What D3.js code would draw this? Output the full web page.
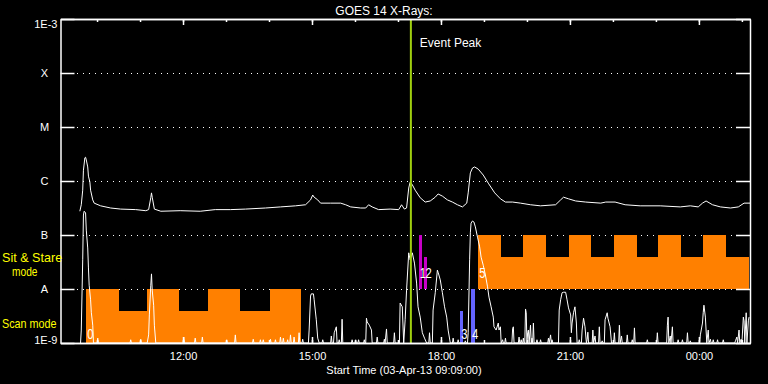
<!DOCTYPE html>
<html><head><meta charset="utf-8">
<script src="https://cdn.jsdelivr.net/npm/d3@7"></script>
<style>
html,body{margin:0;padding:0;background:#000;}
svg{display:block;}
text{font-family:"Liberation Sans",Arial,sans-serif;}
</style></head>
<body>
<svg id="chart" width="768" height="384"></svg>
<script>
// ---------------- DATA ----------------
const titleText = "GOES 14 X-Rays:";
const startTime = new Date(2013, 3, 3, 9, 9, 0);
const endTime = new Date(2013, 3, 4, 1, 12, 0);
const xLabel = "Start Time (03-Apr-13 09:09:00)";

const levelValues = [1e-9, 1e-8, 1e-7, 1e-6, 1e-5, 1e-4, 1e-3];
const levelNames = ["1E-9", "A", "B", "C", "M", "X", "1E-3"];

const bandLabelLines = [["Scan mode"], ["Sit & Stare", "mode"]];
const bandLowLog = [-9, -8]; // log10 flux of band bottom

// long channel (1-8 A): [minutes after start, log10 flux]
const longSeries = [[27,-6.56],[29,-6.44],[31,-6.17],[32,-5.80],[34,-5.57],[35,-5.56],[36,-5.61],[38,-5.74],[39,-5.91],[41,-6.02],
[42,-6.17],[45,-6.35],[47,-6.41],[56,-6.46],[70,-6.50],[84,-6.52],[105,-6.53],[119,-6.55],[123,-6.53],[126,-6.31],
[127,-6.22],[128,-6.30],[131,-6.52],[140,-6.56],[167,-6.55],[195,-6.56],[216,-6.53],[237,-6.53],[258,-6.52],[286,-6.50],
[307,-6.48],[328,-6.46],[342,-6.44],[349,-6.35],[352,-6.26],[354,-6.30],[359,-6.35],[363,-6.41],[377,-6.41],[391,-6.41],
[398,-6.44],[405,-6.48],[419,-6.50],[426,-6.50],[430,-6.44],[435,-6.48],[444,-6.53],[460,-6.52],[472,-6.53],[476,-6.44],
[480,-6.52],[483,-6.50],[486,-6.13],[488,-6.02],[491,-6.07],[495,-6.17],[502,-6.31],[509,-6.39],[516,-6.37],[523,-6.30],
[527,-6.24],[533,-6.28],[540,-6.35],[547,-6.39],[554,-6.44],[561,-6.48],[567,-6.41],[569,-6.22],[572,-5.85],[575,-5.76],
[578,-5.74],[583,-5.78],[590,-5.89],[597,-6.04],[606,-6.22],[614,-6.33],[621,-6.39],[631,-6.39],[642,-6.41],[656,-6.44],
[670,-6.46],[691,-6.44],[698,-6.35],[702,-6.30],[709,-6.33],[719,-6.37],[733,-6.39],[754,-6.41],[761,-6.39],[774,-6.39],
[788,-6.44],[809,-6.46],[837,-6.46],[865,-6.48],[879,-6.46],[890,-6.48],[896,-6.41],[901,-6.37],[910,-6.44],[921,-6.48],
[935,-6.50],[946,-6.48],[954,-6.41],[963,-6.41]];

// short channel (0.5-4 A): [minutes after start, log10 flux], -9 = at/below floor
const shortSeries = [[28,-9],[29,-8.76],[31,-7.46],[32,-6.63],[33,-6.56],[35,-6.59],[36,-6.91],[38,-7.24],[39,-7.61],[40,-7.93],[42,-8.20],[43,-8.43],[45,-8.67],[46,-9],
[51,-9],[52,-8.91],[53,-9],[97,-9],[98,-8.94],[99,-9],[111,-9],[112,-8.93],[113,-9],
[121,-9],[123,-8.85],[124,-8.48],[126,-7.93],[127,-7.72],[128,-8.02],[130,-8.30],[131,-8.67],[133,-9],
[171,-9],[172,-8.89],[173,-9],[187,-9],[188,-8.91],[189,-9],[197,-9],[198,-8.89],[199,-9],[231,-9],[232,-8.94],[233,-9],
[243,-9],[244,-8.85],[245,-9],[268,-9],[269,-8.93],[270,-9],[278,-9],[279,-8.94],[280,-9],[282,-9],[283,-8.94],[284,-9],
[292,-9],[293,-8.93],[294,-9],[299,-9],[300,-8.94],[301,-9],[306,-9],[307,-8.89],[308,-9],[310,-9],[311,-8.91],[312,-9],
[316,-9],[317,-8.94],[318,-9],[320,-9],[321,-8.85],[322,-9],[325,-9],[326,-8.89],[327,-9],[332,-9],[333,-8.81],[334,-9],
[337,-9],[338,-8.93],[339,-9],
[346,-9],[347,-8.76],[349,-8.13],[350,-8.09],[353,-8.09],[354,-8.20],[357,-8.57],[359,-8.91],[361,-9],
[365,-9],[366,-8.94],[367,-9],[377,-9],[378,-8.87],[379,-9],[381,-9],[382,-8.81],[385,-8.70],[386,-9],
[388,-9],[389,-8.94],[390,-9],[392,-9],[393,-8.56],[394,-9],[406,-9],[407,-8.94],[408,-9],[411,-9],[412,-8.94],[413,-9],
[415,-9],[416,-8.94],[417,-9],[423,-9],[424,-8.94],[425,-9],
[426,-9],[427,-8.54],[428,-8.61],[431,-8.67],[434,-8.76],[435,-9],
[441,-9],[442,-8.89],[443,-9],[451,-9],[452,-8.93],[453,-9],[455,-8.74],[456,-9],[465,-9],[466,-8.81],[467,-9],
[473,-9],[474,-8.26],[477,-8.33],[479,-9],[481,-8.57],[483,-8.02],[486,-7.33],[488,-7.46],[491,-7.33],[494,-7.52],[497,-7.89],[499,-8.33],[502,-8.52],[505,-8.81],[508,-8.91],[511,-9],
[514,-9],[515,-8.81],[516,-9],
[519,-9],[520,-8.39],[523,-8.07],[526,-7.65],[527,-7.69],[530,-7.83],[533,-8.07],[536,-8.33],[539,-8.52],[541,-8.76],[544,-9],
[547,-9],[548,-8.91],[549,-9],[554,-9],[555,-8.94],[556,-9],[564,-9],[565,-8.96],[566,-9],
[568,-9],[569,-8.81],[571,-7.46],[572,-6.96],[573,-6.78],[575,-6.74],[577,-6.76],[579,-6.85],[582,-7.04],[585,-7.22],[587,-7.41],[590,-7.56],[593,-7.74],[596,-7.96],[598,-8.15],[601,-8.33],[604,-8.52],[605,-8.70],[608,-8.76],[611,-8.63],[612,-8.76],[614,-8.70],[615,-9],[617,-8.94],[618,-9],[620,-9],[621,-8.91],[622,-9],
[630,-9],[631,-8.74],[632,-8.70],[633,-9],[639,-9],[640,-8.89],[641,-9],[642,-9],[643,-8.94],[644,-9],[645,-9],[646,-8.91],[647,-9],
[648,-9],[649,-8.37],[650,-8.44],[651,-9],[652,-8.81],[653,-8.76],[654,-9],[656,-8.67],[657,-9],[658,-8.91],[659,-9],[660,-8.63],[661,-9],
[664,-9],[665,-8.94],[666,-9],[669,-9],[670,-8.94],[671,-9],
[680,-9],[681,-8.91],[682,-9],[684,-8.85],[685,-9],[686,-8.94],[687,-9],
[695,-9],[696,-8.39],[698,-8.20],[700,-8.07],[702,-8.06],[705,-8.06],[707,-8.20],[709,-8.35],[712,-8.48],[713,-8.81],[714,-8.63],[716,-8.44],[718,-8.33],[720,-8.63],[721,-9],
[723,-9],[724,-8.94],[725,-9],[727,-9],[728,-8.76],[730,-8.54],[732,-8.70],[734,-9],[735,-8.94],[736,-8.80],[737,-9],
[742,-9],[743,-8.76],[744,-9],[746,-8.87],[747,-9],[751,-9],[752,-8.70],[753,-9],[755,-9],[756,-8.96],[757,-9],
[759,-9],[760,-8.57],[763,-8.44],[764,-8.54],[767,-8.70],[769,-9],
[772,-9],[773,-8.81],[774,-9],[779,-9],[780,-8.67],[781,-9],[783,-8.87],[784,-9],[790,-9],[791,-8.85],[792,-9],
[797,-9],[798,-8.94],[799,-9],[800,-9],[801,-8.72],[802,-9],[818,-9],[819,-8.94],[820,-9],[832,-9],[833,-8.81],[834,-9],
[846,-9],[847,-8.67],[848,-8.52],[849,-9],[851,-8.87],[852,-9],[854,-8.70],[855,-9],
[861,-9],[862,-8.94],[863,-9],[867,-9],[868,-8.94],[869,-9],[874,-9],[875,-8.81],[876,-9],[878,-9],[879,-8.96],[880,-9],
[892,-9],[893,-8.85],[896,-8.63],[897,-8.44],[898,-8.30],[900,-8.52],[902,-9],[903,-8.87],[904,-8.76],[905,-9],[907,-8.93],[908,-9],
[910,-9],[911,-8.94],[912,-9],[916,-9],[917,-8.94],[918,-9],[924,-9],[925,-8.94],[926,-9],
[941,-9],[942,-8.96],[944,-8.89],[945,-9],[947,-8.76],[948,-9],[950,-8.93],[951,-9],[953,-8.52],[954,-8.59],[955,-9],[957,-8.44],[958,-9],[960,-8.59],[961,-8.52]];

// observations: id, band (0 = scan, 1 = sit & stare), kind
const obsIds   = [0, 1, 2, 3, 4, 5];
const obsBand  = [0, 1, 1, 0, 0, 1];
const obsKind  = ["long", "short", "short", "short", "short", "long"];
// segments: [obs id, start min, end min, fraction of band]
const obsSegments = [
  [0,36,81,1],[0,81,121,0.6],[0,121,165,1],[0,165,206,0.6],[0,206,250,1],[0,250,292,0.6],[0,292,335,1],
  [1,500,504,1],[2,508,512,0.6],[3,558,562,0.6],[4,573,579,1],
  [5,583,615,1],[5,615,646,0.6],[5,646,678,1],[5,678,709,0.6],[5,709,741,1],[5,741,772,0.6],
  [5,772,804,1],[5,804,834,0.6],[5,834,866,1],[5,866,897,0.6],[5,897,929,1],[5,929,961,0.6]
];
const peakMinute = 489;
const peakLabel = "Event Peak";

// ---------------- DRAW ----------------
const svg = d3.select("#chart");
const L = 60.5, R = 750.5, T = 19, B = 343;
const minToDate = m => new Date(startTime.getTime() + m * 60000);

const x = d3.scaleTime().domain([startTime, endTime]).range([L, R]);
const y = d3.scaleLog().domain([1e-9, 1e-3]).range([B, T]).clamp(true);

svg.append("rect").attr("width", 768).attr("height", 384).attr("fill", "#000");

svg.append("defs").append("clipPath").attr("id", "clip")
  .append("rect").attr("x", 60).attr("y", T).attr("width", 690).attr("height", B - T + 1);

// dotted grid
svg.append("g").selectAll("line").data(levelValues.slice(1, -1)).join("line")
  .attr("x1", 77).attr("x2", 736)
  .attr("y1", d => Math.round(y(d)) + 0.5).attr("y2", d => Math.round(y(d)) + 0.5)
  .attr("stroke", "#fff").attr("stroke-width", 1).attr("stroke-dasharray", "1,5");

// observation blocks / bars
const colorFor = (id) => {
  const i = obsIds.indexOf(id);
  if (obsKind[i] === "long") return "#ff8000";
  return obsBand[i] === 1 ? "#c800c8" : "#6464ff";
};
const plot = svg.append("g").attr("clip-path", "url(#clip)");
plot.append("g").selectAll("rect").data(obsSegments).join("rect")
  .attr("shape-rendering", "crispEdges")
  .attr("x", d => x(minToDate(d[1])))
  .attr("width", d => x(minToDate(d[2])) - x(minToDate(d[1])))
  .attr("y", d => { const b = obsBand[obsIds.indexOf(d[0])]; return y(Math.pow(10, bandLowLog[b] + d[3])); })
  .attr("height", d => { const b = obsBand[obsIds.indexOf(d[0])]; return y(Math.pow(10, bandLowLog[b])) - y(Math.pow(10, bandLowLog[b] + d[3])); })
  .attr("fill", d => colorFor(d[0]));

// curves
const line = d3.line().x(d => x(minToDate(d[0]))).y(d => y(Math.pow(10, d[1])));
plot.append("path").datum(longSeries).attr("d", line)
  .attr("fill", "none").attr("stroke", "#fff").attr("stroke-width", 1);
plot.append("path").datum(shortSeries).attr("d", line)
  .attr("fill", "none").attr("stroke", "#fff").attr("stroke-width", 1);

// event peak
const px = x(minToDate(peakMinute));
svg.append("line").attr("x1", px).attr("x2", px).attr("y1", T).attr("y2", B)
  .attr("stroke", "#a0d010").attr("stroke-width", 2);
svg.append("text").attr("x", px + 9).attr("y", 47).attr("fill", "#fff")
  .attr("font-size", 12).text(peakLabel);

// observation numbers
obsIds.forEach((id, i) => {
  const seg = obsSegments.find(s => s[0] === id);
  const b = obsBand[i];
  const tx = x(minToDate(seg[1])) + 1;
  const ty = b === 0 ? y(Math.pow(10, bandLowLog[b])) - 4 : y(Math.pow(10, bandLowLog[b])) - 11;
  svg.append("text")
    .attr("transform", `translate(${tx},${ty}) scale(0.75,1)`)
    .attr("fill", "#fff").attr("font-size", 15).text(id);
});

// axes
const axisStyle = g => {
  g.selectAll("path.domain").attr("stroke", "#fff").attr("stroke-width", 1.5);
  g.selectAll(".tick line").attr("stroke", "#fff").attr("stroke-width", 1.5);
  g.selectAll("text").attr("fill", "#fff").attr("font-family", '"Liberation Sans",Arial,sans-serif');
};
const yL = svg.append("g").attr("transform", `translate(${L},0)`)
  .call(d3.axisLeft(y).tickValues(levelValues).tickSize(-14).tickSizeOuter(0).tickPadding(3)
    .tickFormat((d, i) => levelNames[i]))
  .call(axisStyle);
yL.selectAll(".tick text").attr("font-size", 11)
  .each(function(d, i) {
    const t = d3.select(this);
    if (i === 0) { t.attr("dy", "0").attr("y", 0); }
    else if (i === levelValues.length - 1) { t.attr("dy", "0.75em").attr("y", 0); }
    else { t.attr("text-anchor", "middle").attr("x", -16).attr("dy", "0.36em"); }
  });

svg.append("g").attr("transform", `translate(${R - 0.5},0)`)
  .call(d3.axisRight(y).tickValues(levelValues).tickSize(-14).tickSizeOuter(0).tickFormat(""))
  .call(axisStyle);

svg.append("g").attr("transform", `translate(0,${T})`)
  .call(d3.axisTop(x).ticks(d3.timeHour.every(1)).tickSize(-3).tickSizeOuter(0).tickFormat(""))
  .call(axisStyle);
svg.append("g").attr("transform", `translate(0,${T})`)
  .call(d3.axisTop(x).ticks(d3.timeHour.every(3)).tickSize(-6).tickSizeOuter(0).tickFormat(""))
  .call(axisStyle);
svg.append("g").attr("transform", `translate(0,${B})`)
  .call(d3.axisBottom(x).ticks(d3.timeHour.every(1)).tickSize(-3).tickSizeOuter(0).tickFormat(""))
  .call(axisStyle);
const xb = svg.append("g").attr("transform", `translate(0,${B})`)
  .call(d3.axisBottom(x).ticks(d3.timeHour.every(3)).tickSize(-6).tickSizeOuter(0).tickPadding(9)
    .tickFormat(d3.timeFormat("%H:%M")))
  .call(axisStyle);
xb.selectAll("text").attr("font-size", 11);

// titles
svg.append("text").attr("x", 384).attr("y", 15).attr("text-anchor", "middle")
  .attr("fill", "#fff").attr("font-size", 12).text(titleText);
svg.append("text").attr("x", 404).attr("y", 374).attr("text-anchor", "middle")
  .attr("fill", "#fff").attr("font-size", 11).text(xLabel);

// band labels: [x, baseline, horizontal scale]
const bandLabelPos = [[[2, 328, 0.9]], [[2, 262, 1.05], [12, 276, 0.85]]];
bandLabelLines.forEach((lines, b) => {
  lines.forEach((txt, j) => {
    const p = bandLabelPos[b][j];
    svg.append("text").attr("transform", `translate(${p[0]},${p[1]}) scale(${p[2]},1)`)
      .attr("fill", "#ffff00").attr("font-size", 12).text(txt);
  });
});
</script>
</body></html>
